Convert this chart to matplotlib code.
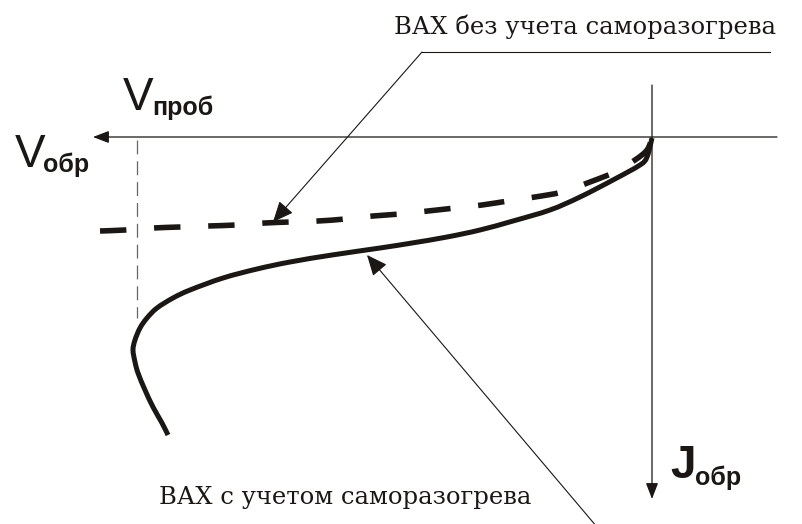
import matplotlib
matplotlib.use('Agg')
import matplotlib.pyplot as plt
from matplotlib.path import Path
from matplotlib.patches import PathPatch

# Reverse-bias I-V sketch: V_обр grows to the left, J_обр grows downward.
# Coordinates are in arbitrary drawing units with the origin at the axes crossing.

# I-V curve with self-heating (solid)
v_heat = [0, 5, 12, 39, 72, 102, 139, 172, 205, 240, 272, 320, 362, 395,
          429, 462, 479, 495, 505, 512, 517, 519, 517, 514, 507, 499, 490,
          484]
j_heat = [1, 20, 28, 43, 60, 73, 84, 93, 100, 106, 111, 118, 125, 132,
          141, 153, 161, 171, 181, 191, 203, 213, 225, 236, 253, 270, 286,
          298]

# I-V curve without self-heating (dashed)
v_cold = [552, 527, 499, 472, 444, 416, 387, 362, 334, 307, 279, 252, 224,
          197, 170, 144, 117, 90, 62, 37, 17, 5, 0]
j_cold = [94, 93, 91, 90, 89, 88, 86, 85, 84, 82, 79, 77, 74,
          71, 68, 64, 60, 55, 45, 35, 23, 13, 1]

v_break = 515          # breakdown voltage marker
v_break_j_end = 181

label_cold = 'ВАХ без учета саморазогрева'
label_heat = 'ВАХ с учетом саморазогрева'


def smooth_path(xs, ys):
    # Catmull-Rom through the points, written as cubic Bezier segments
    pts = list(zip(xs, ys))
    verts = [pts[0]]
    codes = [Path.MOVETO]
    for i in range(len(pts) - 1):
        p0 = pts[i - 1] if i > 0 else pts[i]
        p1 = pts[i]
        p2 = pts[i + 1]
        p3 = pts[i + 2] if i + 2 < len(pts) else pts[i + 1]
        c1 = (p1[0] + (p2[0] - p0[0]) / 6, p1[1] + (p2[1] - p0[1]) / 6)
        c2 = (p2[0] - (p3[0] - p1[0]) / 6, p2[1] - (p3[1] - p1[1]) / 6)
        verts += [c1, c2, p2]
        codes += [Path.CURVE4] * 3
    return Path(verts, codes)


plt.rcParams['lines.scale_dashes'] = False
sans = ['Liberation Sans Narrow', 'Liberation Sans', 'DejaVu Sans']
serif = ['DejaVu Serif']

fig = plt.figure(figsize=(8.02, 5.24), dpi=100)
ax = fig.add_axes([0, 0, 1, 1])
ax.set_xlim(652, -150)
ax.set_ylim(387, -137)
ax.axis('off')

ink = '#1a1714'

# axes with arrows
ax.annotate('', xy=(559, 0), xytext=(-125, 0),
            arrowprops=dict(arrowstyle='-|>,head_length=0.65,head_width=0.25',
                            mutation_scale=15, lw=0.9, color=ink,
                            shrinkA=0, shrinkB=0))
ax.annotate('', xy=(0, 362), xytext=(0, -52),
            arrowprops=dict(arrowstyle='-|>,head_length=0.65,head_width=0.25',
                            mutation_scale=15, lw=0.9, color=ink,
                            shrinkA=0, shrinkB=0))

# breakdown voltage guide
ax.plot([v_break, v_break], [3, v_break_j_end], color='#666666', lw=0.9,
        dashes=(10, 5))

# curves
ax.add_patch(PathPatch(smooth_path(v_heat, j_heat), fill=False,
                       edgecolor=ink, lw=3.6, capstyle='butt',
                       joinstyle='round'))
ax.add_patch(PathPatch(smooth_path(v_cold, j_cold), fill=False,
                       edgecolor=ink, lw=4.0, linestyle=(0, (19, 20)),
                       capstyle='butt', joinstyle='round'))

# leader for the curve without self-heating
ax.plot([-118, 230], [-85, -85], color=ink, lw=0.8)
ax.annotate('', xy=(379, 85), xytext=(230, -85),
            arrowprops=dict(arrowstyle='-|>,head_length=0.8,head_width=0.35',
                            mutation_scale=16, lw=0.8, color=ink,
                            shrinkA=0, shrinkB=0))
ax.text(67, -110, label_cold, family=serif, fontsize=17.5,
        ha='center', va='center', color=ink)

# leader for the curve with self-heating
ax.annotate('', xy=(285, 118), xytext=(55, 390),
            arrowprops=dict(arrowstyle='-|>,head_length=0.8,head_width=0.35',
                            mutation_scale=16, lw=0.8, color=ink,
                            shrinkA=0, shrinkB=0))
ax.text(307, 360, label_heat, family=serif, fontsize=17.5,
        ha='center', va='center', color=ink)

# axis labels
lab = dict(family=sans, ha='left', va='baseline', color=ink)
ax.text(637, 30, 'V', fontsize=33, **lab)
ax.text(609, 35, 'обр', fontsize=18, fontweight='bold', **lab)
ax.text(529, -27, 'V', fontsize=33, **lab)
ax.text(500, -22, 'проб', fontsize=18, fontweight='bold', **lab)
ax.text(-18, 341, 'J', fontsize=33, fontweight='bold', **lab)
ax.text(-43, 348, 'обр', fontsize=18, fontweight='bold', **lab)

fig.savefig('out.png', dpi=100)
